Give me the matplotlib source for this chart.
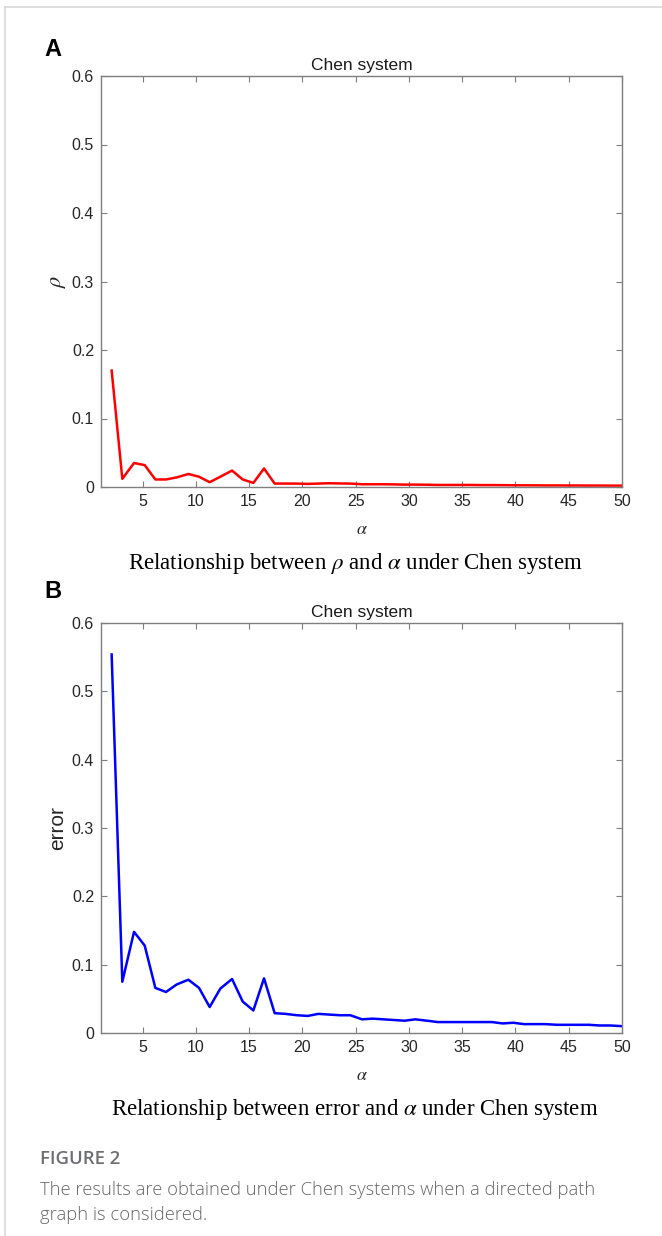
import matplotlib
matplotlib.use("Agg")
import matplotlib.pyplot as plt
from matplotlib.lines import Line2D

plt.rcParams['mathtext.fontset'] = 'stix'

alpha = [2.1, 3.1, 4.2, 5.2, 6.2, 7.2, 8.2, 9.3, 10.3, 11.3, 12.3, 13.4, 14.4, 15.4,
         16.4, 17.4, 18.4, 19.5, 20.5, 21.5, 22.5, 23.5, 24.5, 25.6, 26.6, 27.6, 28.6,
         29.6, 30.6, 31.7, 32.7, 33.7, 34.7, 35.7, 36.7, 37.8, 38.8, 39.8, 40.8, 41.8,
         42.8, 43.9, 44.9, 45.9, 46.9, 47.9, 48.9, 50.0]

rho = [0.170, 0.012, 0.035, 0.032, 0.011, 0.011, 0.014, 0.019, 0.015, 0.007, 0.015,
       0.024, 0.011, 0.006, 0.027, 0.005, 0.005, 0.005, 0.0045, 0.005, 0.0055, 0.0052,
       0.005, 0.004, 0.004, 0.004, 0.0038, 0.0035, 0.0035, 0.0033, 0.003, 0.003, 0.003,
       0.003, 0.0028, 0.0028, 0.0027, 0.0025, 0.0025, 0.0024, 0.0023, 0.0023, 0.0022,
       0.0022, 0.0021, 0.0021, 0.002, 0.002]

error = [0.554, 0.075, 0.148, 0.128, 0.066, 0.060, 0.071, 0.078, 0.066, 0.038, 0.065,
         0.079, 0.046, 0.033, 0.080, 0.029, 0.028, 0.026, 0.025, 0.028, 0.027, 0.026,
         0.026, 0.020, 0.021, 0.020, 0.019, 0.018, 0.020, 0.018, 0.016, 0.016, 0.016,
         0.016, 0.016, 0.016, 0.014, 0.015, 0.013, 0.013, 0.013, 0.012, 0.012, 0.012,
         0.012, 0.011, 0.011, 0.010]

xticks = [5, 10, 15, 20, 25, 30, 35, 40, 45, 50]
yticks = [0, 0.1, 0.2, 0.3, 0.4, 0.5, 0.6]
ytick_labels = ['0', '0.1', '0.2', '0.3', '0.4', '0.5', '0.6']

W, H = 662, 1236
fig = plt.figure(figsize=(W / 100, H / 100), dpi=100)

def fx(px):
    return px / W

def fy(py):
    return 1 - py / H

SANS = ['Liberation Sans', 'DejaVu Sans']
SERIF = ['Liberation Serif', 'DejaVu Serif']
AXC = '#7f7f7f'
TXT = '#262626'

# page border
fig.add_artist(Line2D([fx(5), 1.0], [fy(7), fy(7)], color='#d9d9d9', lw=1.2))
fig.add_artist(Line2D([fx(5), fx(5)], [fy(7), 0.0], color='#d9d9d9', lw=1.2))

def make_panel(top, bottom, y, color, ylabel, ylabel_math, letter, letter_y, caption):
    ax = fig.add_axes([fx(101), fy(bottom), fx(622) - fx(101), fy(top) - fy(bottom)])
    ax.plot(alpha, y, color=color, lw=1.8)
    ax.set_xlim(1.1, 50)
    ax.set_ylim(0, 0.6)
    ax.set_xticks(xticks)
    ax.set_yticks(yticks)
    ax.set_yticklabels(ytick_labels)
    for s in ax.spines.values():
        s.set_color(AXC)
        s.set_linewidth(1.0)
    ax.tick_params(direction='in', length=4, width=0.8, color=AXC, top=True, right=True,
                   labelsize=11.5, labelcolor=TXT, pad=5)
    for lab in ax.get_xticklabels() + ax.get_yticklabels():
        lab.set_family(SANS)
    ax.set_title('Chen system', fontsize=12.5, family=SANS, color='#1a1a1a', pad=4)
    ax.set_xlabel(r'$\alpha$', fontsize=13, color=TXT, labelpad=8)
    if ylabel_math:
        ax.set_ylabel(ylabel, fontsize=16, color=TXT, labelpad=3)
    else:
        ax.set_ylabel(ylabel, fontsize=15, family=SANS, color=TXT, labelpad=3)
    fig.text(fx(44), fy(letter_y), letter, fontsize=17, fontweight='bold', family=SANS,
             va='center', ha='left', color='black')
    fig.text(fx(355), fy(bottom + 76), caption, fontsize=16.5, family=SERIF,
             va='center', ha='center', color='black')
    return ax

make_panel(76, 487, rho, '#ff0000', r'$\rho$', True, 'A', 50,
           r'Relationship between $\rho$ and $\alpha$ under Chen system')
make_panel(623, 1033, error, '#0000ff', 'error', False, 'B', 592,
           r'Relationship between error and $\alpha$ under Chen system')

fig.text(fx(40), fy(1159), 'FIGURE 2', fontsize=13.3, fontweight='semibold',
         family=['Open Sans', 'DejaVu Sans'], color='#6d6e71', va='center', ha='left')
fig.text(fx(40), fy(1190), 'The results are obtained under Chen systems when a directed path',
         fontsize=13.2, fontweight='light', family=['Open Sans', 'DejaVu Sans'],
         color='#666769', va='center', ha='left')
fig.text(fx(40), fy(1215), 'graph is considered.',
         fontsize=13.2, fontweight='light', family=['Open Sans', 'DejaVu Sans'],
         color='#666769', va='center', ha='left')

fig.savefig('out.png', dpi=100)
